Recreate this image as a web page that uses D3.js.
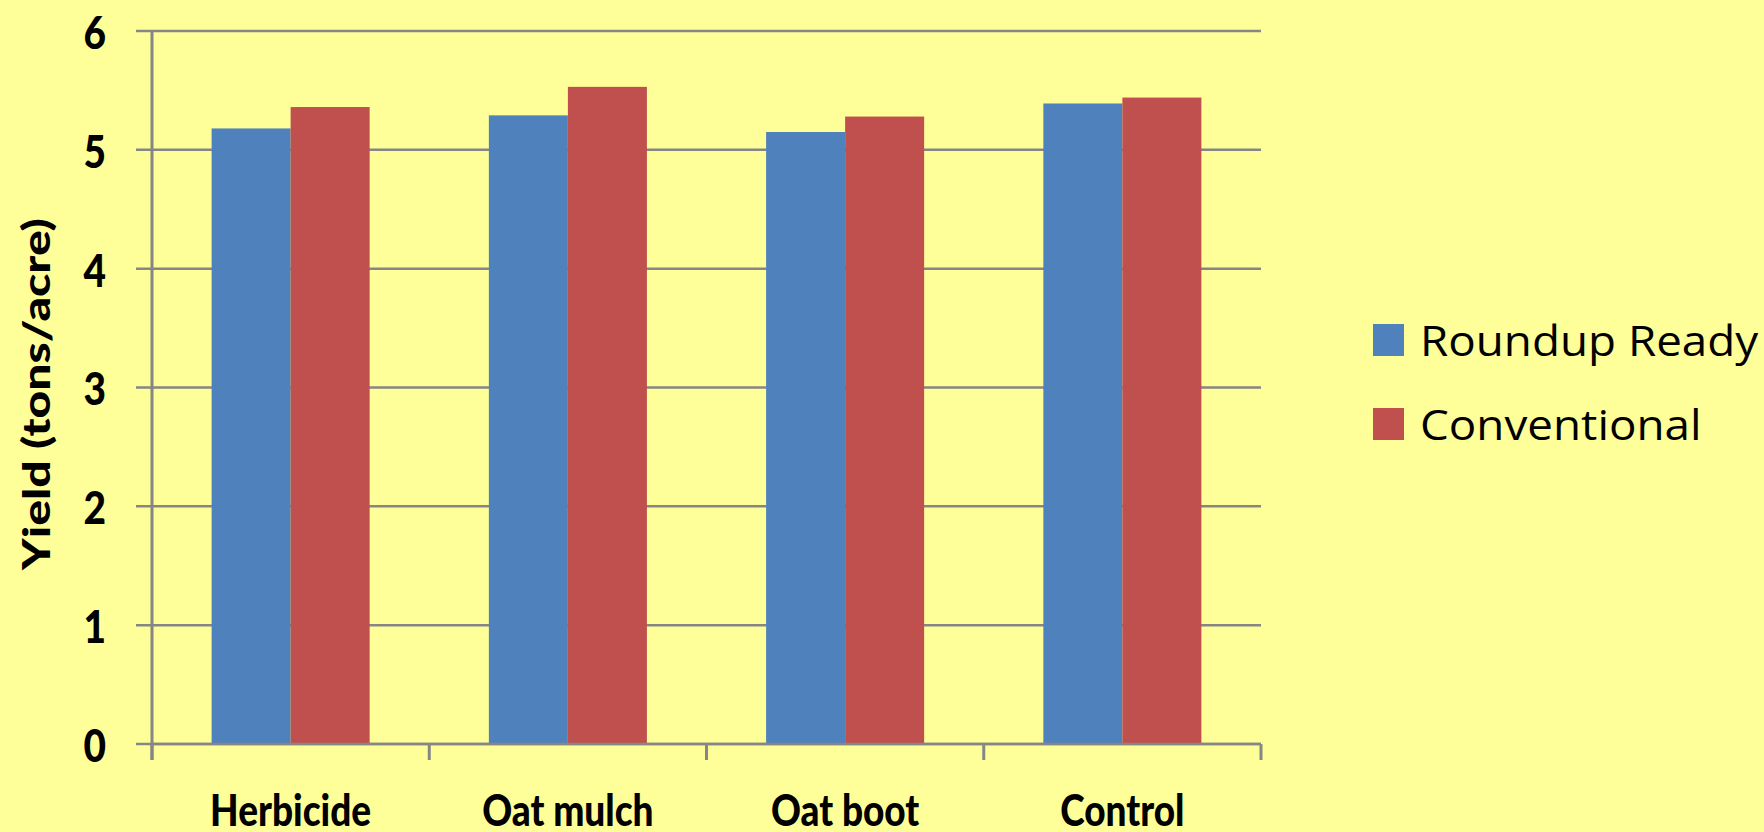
<!DOCTYPE html>
<html>
<head>
<meta charset="utf-8">
<script src="https://cdn.jsdelivr.net/npm/d3@7"></script>
<style>
  html, body { margin: 0; padding: 0; background: #FFFF99; }
  svg { display: block; }
</style>
</head>
<body>
<svg id="chart" width="1764" height="832"></svg>
<script>
const categories = ["Herbicide", "Oat mulch", "Oat boot", "Control"];
const seriesNames = ["Roundup Ready", "Conventional"];
const roundupReady = [5.18, 5.29, 5.15, 5.39];
const conventional = [5.36, 5.53, 5.28, 5.44];
const yTicks = [0, 1, 2, 3, 4, 5, 6];
const yTitle = "Yield (tons/acre)";
const colors = ["#4F81BD", "#C0504D"];

(function () {
const seriesValues = [roundupReady, conventional];
const data = categories.map((c, i) => ({
  category: c,
  values: seriesNames.map((s, j) => ({ series: s, value: seriesValues[j][i], color: colors[j] }))
}));

const svg = d3.select("#chart");
svg.append("rect").attr("width", 1764).attr("height", 832).attr("fill", "#FFFF99");

const pLeft = 152, pRight = 1261, pTop = 31, pBottom = 744;
const y = d3.scaleLinear().domain([0, 6]).range([pBottom, pTop]);
const x0 = d3.scaleBand().domain(categories).range([pLeft, pRight]).padding(0);
const step = x0.step();
const x1 = d3.scaleBand().domain(seriesNames).range([step * 0.215, step * 0.785]).padding(0);

const gridColor = "#868686";
const font = "Lato, 'Open Sans', sans-serif";

// gridlines
svg.append("g").selectAll("line").data(yTicks).join("line")
  .attr("x1", pLeft - 16).attr("x2", pRight)
  .attr("y1", d => y(d)).attr("y2", d => y(d))
  .attr("stroke", gridColor).attr("stroke-width", 2.5);

// bars
const groups = svg.append("g").selectAll("g").data(data).join("g")
  .attr("transform", d => `translate(${x0(d.category)},0)`);
groups.selectAll("rect").data(d => d.values).join("rect")
  .attr("x", d => x1(d.series))
  .attr("width", x1.bandwidth())
  .attr("y", d => y(d.value))
  .attr("height", d => y(0) - y(d.value))
  .attr("fill", d => d.color);

// y axis line
svg.append("line").attr("x1", pLeft).attr("x2", pLeft).attr("y1", pTop).attr("y2", pBottom + 16)
  .attr("stroke", gridColor).attr("stroke-width", 3);
// x axis line
svg.append("line").attr("x1", pLeft).attr("x2", pRight).attr("y1", pBottom).attr("y2", pBottom)
  .attr("stroke", gridColor).attr("stroke-width", 2.5);
// x tick marks at band boundaries
const boundaries = categories.map(c => x0(c)).concat([pRight]);
svg.append("g").selectAll("line").data(boundaries).join("line")
  .attr("x1", d => d).attr("x2", d => d)
  .attr("y1", pBottom).attr("y2", pBottom + 16)
  .attr("stroke", gridColor).attr("stroke-width", 3);

// y tick labels
svg.append("g").selectAll("text").data(yTicks).join("text")
  .attr("transform", d => `translate(106,${y(d)}) scale(1.05,1.25)`)
  .attr("text-anchor", "end")
  .attr("dominant-baseline", "central")
  .attr("font-family", font).attr("font-weight", 900).attr("font-size", 37)
  .attr("fill", "#000")
  .text(d => d);

// x labels
svg.append("g").selectAll("text").data(categories).join("text")
  .attr("transform", d => `translate(${x0(d) + step / 2},826) scale(1,1.2)`)
  .attr("text-anchor", "middle")
  .attr("font-family", font).attr("font-weight", 900).attr("font-size", 37)
  .attr("fill", "#000")
  .text(d => d);

// y title
svg.append("text")
  .attr("transform", "translate(35,394) rotate(-90) scale(1.3,1.05)")
  .attr("text-anchor", "middle")
  .attr("dominant-baseline", "central")
  .attr("font-family", font).attr("font-weight", 900).attr("font-size", 37)
  .attr("fill", "#000")
  .text(yTitle);

// legend
const legend = svg.append("g").selectAll("g").data(seriesNames).join("g")
  .attr("transform", (d, i) => `translate(1373,${340 + i * 84})`);
legend.append("rect").attr("x", 0).attr("y", -16).attr("width", 31).attr("height", 32)
  .attr("fill", (d, i) => colors[i]);
legend.append("text")
  .attr("transform", "translate(47,0) scale(1.09,1)")
  .attr("dominant-baseline", "central")
  .attr("font-family", "'Open Sans', sans-serif").attr("font-size", 42)
  .attr("fill", "#000")
  .text(d => d);
})();
</script>
</body>
</html>
